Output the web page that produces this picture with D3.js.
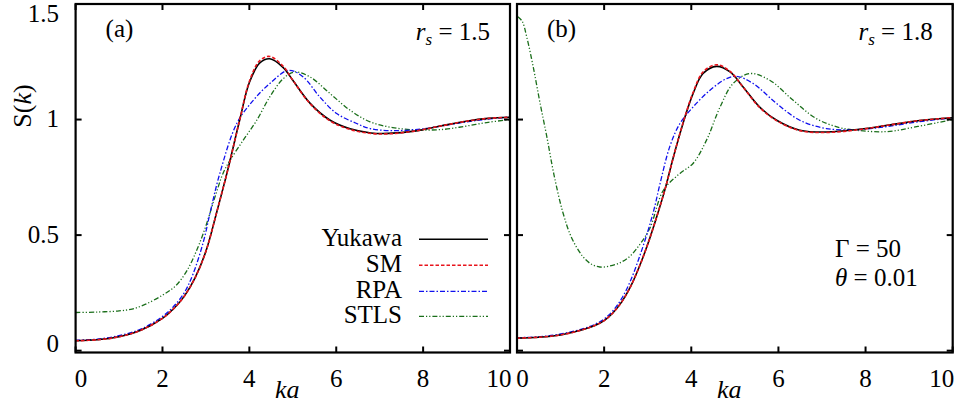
<!DOCTYPE html>
<html><head><meta charset="utf-8">
<script src="https://cdn.jsdelivr.net/npm/d3@7"></script>
<style>body{margin:0;background:#fff}svg{display:block}</style>
</head><body>
<svg id="c" width="965" height="405"></svg>
<script>
// ---- data ----
const xTicks = [0, 2, 4, 6, 8, 10];
const yTicks = [0, 0.5, 1, 1.5];
const yTickLabels = ["0", "0.5", "1", "1.5"];
const seriesNames = ["Yukawa", "SM", "RPA", "STLS"];

// panel (a) r_s = 1.5
const kYukawaA = [0,0.5,1,1.5,2,2.25,2.5,2.75,3.0,3.25,3.5,3.78,4.0,4.24,4.47,4.78,5.0,5.4,5.86,6.32,6.8,7.2,7.8,8.4,9,9.5,10];
const sYukawaA = [0.043,0.047,0.06,0.088,0.14,0.18,0.235,0.315,0.43,0.6,0.78,1.0,1.16,1.245,1.263,1.225,1.17,1.07,0.997,0.96,0.942,0.94,0.95,0.972,0.993,1.005,1.01];
const kSMA = kYukawaA;
const sSMA = [0.043,0.047,0.06,0.088,0.14,0.18,0.235,0.315,0.43,0.6,0.78,1.0,1.165,1.255,1.273,1.23,1.17,1.068,0.994,0.957,0.94,0.938,0.95,0.972,0.993,1.005,1.01];
const kRPAA = [0,0.5,1,1.5,2,2.25,2.5,2.7,2.94,3.1,3.32,3.71,4.09,4.47,4.9,5.24,5.62,6.01,6.47,6.78,7.3,8,8.6,9.2,10];
const sRPAA = [0.045,0.05,0.065,0.093,0.148,0.19,0.25,0.33,0.47,0.6,0.767,0.983,1.083,1.156,1.213,1.184,1.098,1.026,0.983,0.961,0.952,0.96,0.978,0.995,1.012];
const kSTLSA = [0,0.5,1,1.3,1.6,2,2.3,2.56,2.8,3.0,3.2,3.4,3.55,3.86,4.17,4.47,4.78,5.05,5.4,5.86,6.32,6.78,7.3,7.9,8.5,9,9.5,10];
const sSTLSA = [0.165,0.167,0.172,0.18,0.2,0.24,0.28,0.345,0.44,0.54,0.66,0.77,0.822,0.911,0.997,1.098,1.177,1.206,1.184,1.112,1.04,0.99,0.965,0.955,0.958,0.972,0.988,1.0];

// panel (b) r_s = 1.8
const kYukawaB = [0,0.5,1,1.5,1.8,2.0,2.2,2.4,2.6,2.8,3.0,3.2,3.4,3.59,3.81,4.04,4.27,4.58,4.89,5.19,5.57,5.96,6.49,7.1,7.87,8.5,9.2,10];
const sYukawaB = [0.054,0.058,0.068,0.09,0.11,0.13,0.163,0.21,0.275,0.36,0.46,0.575,0.70,0.838,0.983,1.112,1.199,1.23,1.206,1.141,1.054,0.997,0.954,0.946,0.958,0.975,0.995,1.008];
const kSMB = kYukawaB;
const sSMB = [0.054,0.058,0.068,0.09,0.11,0.13,0.163,0.21,0.275,0.36,0.46,0.575,0.70,0.838,0.985,1.116,1.206,1.237,1.208,1.14,1.052,0.995,0.952,0.944,0.957,0.975,0.995,1.008];
const kRPAB = [0,0.5,1,1.5,1.8,2.0,2.2,2.4,2.6,2.8,3.0,3.15,3.28,3.51,3.74,4.04,4.43,4.81,5.04,5.42,5.96,6.49,7.1,7.87,8.5,9.2,10];
const sRPAB = [0.056,0.06,0.072,0.094,0.115,0.137,0.172,0.225,0.3,0.4,0.515,0.615,0.72,0.885,0.983,1.054,1.127,1.177,1.187,1.156,1.069,0.997,0.961,0.957,0.97,0.99,1.008];
const kSTLSB = [0.02,0.12,0.22,0.37,0.52,0.68,0.85,1.05,1.25,1.5,1.7,1.9,2.1,2.36,2.6,2.82,3.05,3.36,3.74,4.04,4.35,4.66,4.96,5.34,5.8,6.34,6.87,7.41,7.87,8.5,9.2,10];
const sSTLSB = [1.445,1.425,1.36,1.23,1.08,0.93,0.76,0.6,0.49,0.41,0.375,0.362,0.365,0.38,0.41,0.46,0.53,0.694,0.767,0.81,0.911,1.054,1.156,1.199,1.17,1.083,1.004,0.965,0.952,0.948,0.97,1.0];

// ---- styles ----
const styles = {
  Yukawa: {color:"#000000", dash:null, w:1.6},
  SM:     {color:"#e8141c", dash:"3.5,2", w:1.6},
  RPA:    {color:"#1010ee", dash:"5,2,1.5,2", w:1.3},
  STLS:   {color:"#1a6e1a", dash:"5,2,1.2,2,1.2,2", w:1.3}
};

const FONT = "'Liberation Serif','DejaVu Serif','Times New Roman',Tinos,'Nimbus Roman','Nimbus Roman No9 L','FreeSerif','Noto Serif',Times,serif";
const svg = d3.select("#c");
const F = 25;
function txt(sel){ return sel.append("text").style("font-family", FONT).attr("fill","#000"); }

function panel(x0, x1, series, opts) {
  const x = d3.scaleLinear().domain([0,10]).range([x0, x1]);
  const y = d3.scaleLinear().domain([-0.008,1.5]).range([352.5, 4]);
  const g = svg.append("g");
  const line = d3.line().x(d=>x(d[0])).y(d=>y(d[1])).curve(d3.curveCatmullRom.alpha(0.5));
  const clipId = "clip"+Math.round(x0);
  svg.append("clipPath").attr("id", clipId).append("rect")
    .attr("x", x0).attr("y", 4).attr("width", x1-x0).attr("height", 352.5-4);
  const lines = g.append("g").attr("clip-path", `url(#${clipId})`);
  ["STLS","RPA","Yukawa","SM"].forEach(name=>{
    const s = series[name];
    const pts = s.k.map((k,i)=>[k, s.v[i]]);
    const st = styles[name];
    lines.append("path").attr("d", line(pts)).attr("fill","none")
      .attr("stroke", st.color).attr("stroke-width", st.w)
      .attr("stroke-dasharray", st.dash).attr("stroke-linejoin","round");
  });
  const tl = 6;
  xTicks.forEach(t=>{
    g.append("line").attr("x1",x(t)).attr("x2",x(t)).attr("y1",352.5).attr("y2",352.5-tl).attr("stroke","#000").attr("stroke-width",2);
    g.append("line").attr("x1",x(t)).attr("x2",x(t)).attr("y1",4).attr("y2",4+tl).attr("stroke","#000").attr("stroke-width",2);
  });
  yTicks.forEach(t=>{
    g.append("line").attr("x1",x0).attr("x2",x0+tl).attr("y1",y(t)).attr("y2",y(t)).attr("stroke","#000").attr("stroke-width",2);
    g.append("line").attr("x1",x1).attr("x2",x1-tl).attr("y1",y(t)).attr("y2",y(t)).attr("stroke","#000").attr("stroke-width",2);
  });
  g.append("rect").attr("x",x0).attr("y",4).attr("width",x1-x0).attr("height",352.5-4)
    .attr("fill","none").attr("stroke","#000").attr("stroke-width",2.2);
  xTicks.forEach((t,i)=>{
    let px = x(t);
    if (i===0) px += 5.5;
    if (i===xTicks.length-1) px -= 11;
    txt(g).attr("x",px).attr("y",387).attr("text-anchor","middle")
      .attr("font-size",F).text(String(t));
  });
  txt(g).attr("x", x(4)+38).attr("y",398).attr("text-anchor","middle")
    .attr("font-size",F+1).attr("font-style","italic").text("ka");
  txt(g).attr("x", x0+30).attr("y",37).attr("font-size",F).text(opts.label);
  const rs = txt(g).attr("x", x1-20).attr("y",40).attr("text-anchor","end").attr("font-size",F);
  rs.append("tspan").attr("font-style","italic").text("r");
  rs.append("tspan").attr("font-style","italic").attr("font-size",17).attr("dy",5).text("s");
  rs.append("tspan").attr("dy",-5).text(" = " + opts.rs);
  return {x, y, g};
}

const A = panel(75.6, 510, {
  Yukawa:{k:kYukawaA, v:sYukawaA}, SM:{k:kSMA, v:sSMA},
  RPA:{k:kRPAA, v:sRPAA}, STLS:{k:kSTLSA, v:sSTLSA}
}, {label:"(a)", rs:"1.5"});
const B = panel(517, 952.7, {
  Yukawa:{k:kYukawaB, v:sYukawaB}, SM:{k:kSMB, v:sSMB},
  RPA:{k:kRPAB, v:sRPAB}, STLS:{k:kSTLSB, v:sSTLSB}
}, {label:"(b)", rs:"1.8"});

yTicks.forEach((t,i)=>{
  let py = A.y(t) + 7.5;
  if (i===0) py = 352;
  if (i===yTicks.length-1) py = 22;
  txt(svg).attr("x",59).attr("y",py).attr("text-anchor","end")
    .attr("font-size",F).text(yTickLabels[i]);
});
const yl = txt(svg).attr("transform","translate(31,106) rotate(-90)")
  .attr("text-anchor","middle").attr("font-size",F+1);
yl.append("tspan").text("S(");
yl.append("tspan").attr("font-style","italic").text("k");
yl.append("tspan").text(")");

const legY = [246, 272, 298, 323];
seriesNames.forEach((n,i)=>{
  txt(svg).attr("x",402).attr("y",legY[i]).attr("text-anchor","end")
    .attr("font-size",F).text(n);
  const st = styles[n];
  svg.append("line").attr("x1",419).attr("x2",488).attr("y1",legY[i]-6.7).attr("y2",legY[i]-6.7)
    .attr("stroke",st.color).attr("stroke-width",st.w).attr("stroke-dasharray",st.dash);
});

const t1 = txt(svg).attr("x",835).attr("y",257).attr("font-size",F);
t1.append("tspan").text("Γ = 50");
const t2 = txt(svg).attr("x",835).attr("y",286).attr("font-size",F);
t2.append("tspan").attr("font-style","italic").text("θ");
t2.append("tspan").text(" = 0.01");
</script>
</body></html>
